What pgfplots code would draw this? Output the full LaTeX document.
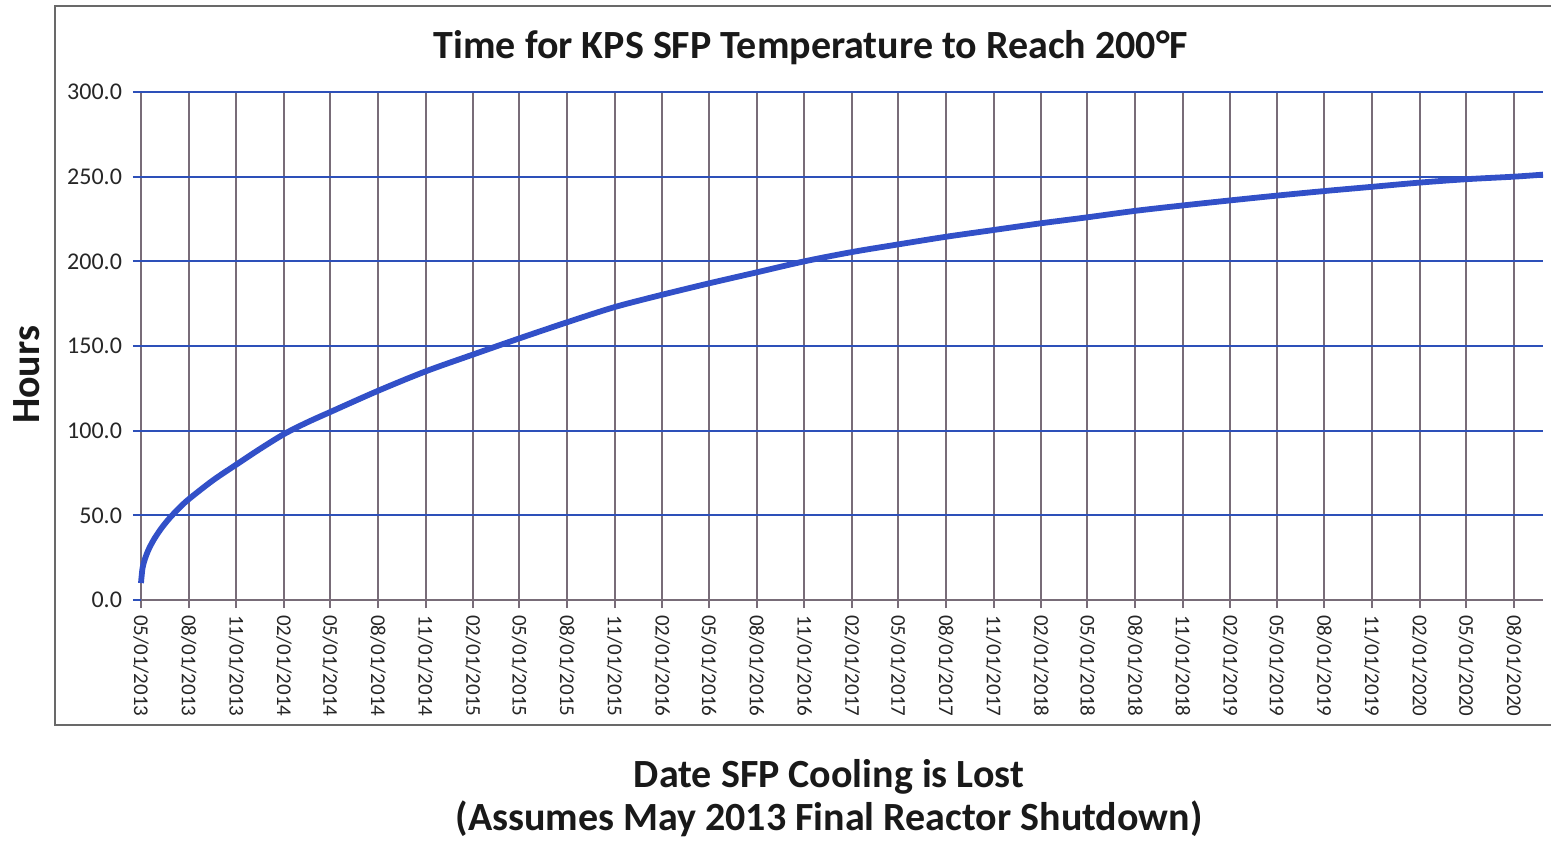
\documentclass[border=0pt]{standalone}
\usepackage{fontspec}
\setmainfont{Carlito}
\usepackage{pgfplots}
\pgfplotsset{compat=1.18}
\definecolor{gridblue}{RGB}{45,80,185}
\definecolor{gridgray}{RGB}{120,108,120}
\definecolor{curveblue}{RGB}{50,80,200}
\definecolor{framegray}{RGB}{105,105,105}
\begin{document}
\begin{tikzpicture}
\path[use as bounding box] (-70.5pt,-120pt) rectangle (705pt,300pt);
\fill[white] (-70.5pt,-120pt) rectangle (705pt,300pt);
\draw[framegray, line width=1pt] (-43pt,297pt) rectangle (712pt,-62.5pt);
\begin{axis}[
  at={(0pt,0pt)}, anchor=south west,
  scale only axis, width=701pt, height=254pt,
  xmin=0, xmax=2705, ymin=0, ymax=300,
  axis x line*=bottom, axis y line*=left,
  x axis line style={gridgray, line width=1pt, -},
  y axis line style={draw=none},
  tick align=outside, major tick length=4pt,
  xtick style={gridgray, line width=1pt},
  ytick style={gridblue, line width=1pt},
  grid=major,
  x grid style={gridgray, line width=1pt},
  y grid style={gridblue, line width=1pt},
  ytick={0,50,100,150,200,250,300},
  /pgf/number format/fixed, /pgf/number format/fixed zerofill,
  /pgf/number format/precision=1, /pgf/number format/assume math mode=true,
  yticklabel style={font=\fontsize{12}{14}\selectfont, text=black!85, xshift=-2pt},
  xtick={0,92,184,276,365,457,549,641,730,822,914,1006,1096,1188,1280,1372,1461,1553,1645,1737,1826,1918,2010,2102,2191,2283,2375,2467,2557,2649},
  xticklabels={05/01/2013,08/01/2013,11/01/2013,02/01/2014,05/01/2014,08/01/2014,11/01/2014,02/01/2015,05/01/2015,08/01/2015,11/01/2015,02/01/2016,05/01/2016,08/01/2016,11/01/2016,02/01/2017,05/01/2017,08/01/2017,11/01/2017,02/01/2018,05/01/2018,08/01/2018,11/01/2018,02/01/2019,05/01/2019,08/01/2019,11/01/2019,02/01/2020,05/01/2020,08/01/2020},
  xticklabel style={rotate=-90, anchor=west, font=\fontsize{10.5}{12}\selectfont, text=black!85},
  clip=false,
]
\addplot[curveblue, line width=2.9pt, smooth, tension=0.5] coordinates {
(0,10) (3,18.9) (8,24.6) (15,30) (25,35.8) (38,41.8) (50,46.5) (60,50)
(75,54.7) (92,59.5) (138,70.5) (184,80) (230,89.3) (276,98) (320,104.8)
(365,111) (457,123.5) (549,135) (641,145) (730,154.5) (822,164) (914,173)
(1006,180.3) (1096,187) (1188,193.5) (1280,200) (1372,205.5) (1461,210)
(1553,214.5) (1645,218.5) (1737,222.5) (1826,226) (1918,229.8) (2010,233)
(2102,236) (2191,238.8) (2283,241.5) (2375,244) (2467,246.5) (2557,248.5)
(2649,250) (2705,251.2)
};
\end{axis}
\node[font=\bfseries\fontsize{20}{24}\selectfont, text=black!90] at (335pt,276pt) {Time for KPS SFP Temperature to Reach 200°F};
\node[font=\bfseries\fontsize{20}{24}\selectfont, text=black!90, rotate=90] at (-57pt,112.5pt) {Hours};
\node[font=\bfseries\fontsize{20}{24}\selectfont, text=black!90] at (344pt,-88.5pt) {Date SFP Cooling is Lost};
\node[font=\bfseries\fontsize{20}{24}\selectfont, text=black!90] at (344pt,-109.5pt) {(Assumes May 2013 Final Reactor Shutdown)};
\end{tikzpicture}
\end{document}
